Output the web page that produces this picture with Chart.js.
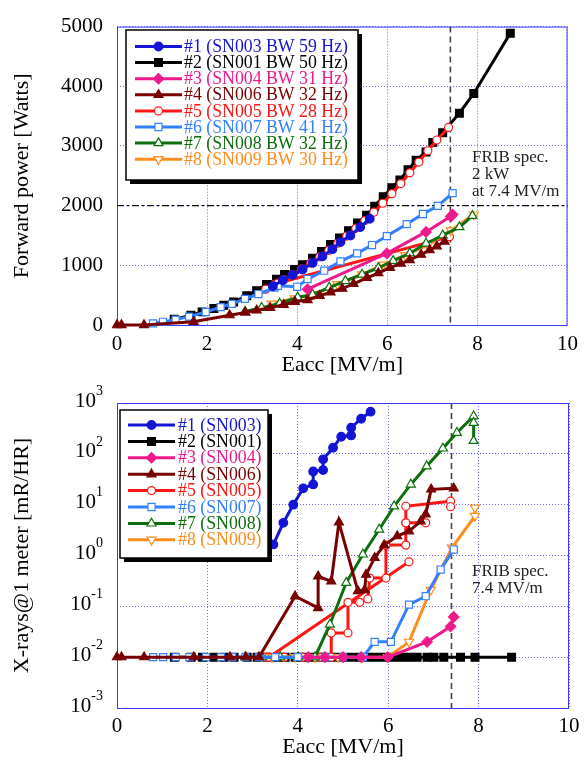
<!DOCTYPE html>
<html><head><meta charset="utf-8">
<script src="https://cdn.jsdelivr.net/npm/chart.js@4/dist/chart.umd.min.js"></script>
<style>
html,body{margin:0;padding:0;background:#fff;width:585px;height:763px;overflow:hidden}
#c1{position:absolute;left:0;top:0}
#c2{position:absolute;left:0;top:380px}
</style></head><body>
<canvas id="c1" width="585" height="380"></canvas>
<canvas id="c2" width="585" height="383"></canvas>
<script>
// ---------- DATA ----------
const xTicks = [0, 2, 4, 6, 8, 10];
const powerTicks = [0, 1000, 2000, 3000, 4000, 5000];
const xrayTickExps = [-3, -2, -1, 0, 1, 2, 3];

const topLabels = ['#1 (SN003 BW 59 Hz)', '#2 (SN001 BW 50 Hz)', '#3 (SN004 BW 31 Hz)', '#4 (SN006 BW 32 Hz)',
                   '#5 (SN005 BW 28 Hz)', '#6 (SN007 BW 41 Hz)', '#7 (SN008 BW 32 Hz)', '#8 (SN009 BW 30 Hz)'];
const bottomLabels = ['#1 (SN003)', '#2 (SN001)', '#3 (SN004)', '#4 (SN006)',
                      '#5 (SN005)', '#6 (SN007)', '#7 (SN008)', '#8 (SN009)'];

// Forward power [W] vs Eacc [MV/m]
const fwd1 = [[3.46,650],[3.68,750],[3.9,840],[4.12,930],[4.34,1040],[4.56,1150],[4.78,1270],[4.96,1390],[5.18,1500],[5.4,1640],[5.61,1780]];
const fwd2 = [[1.27,95],[1.64,165],[1.89,220],[2.15,275],[2.37,330],[2.59,385],[2.88,490],[3.1,575],[3.32,680],[3.54,765],[3.72,845],[3.94,930],[4.12,1010],[4.34,1120],[4.54,1230],[4.74,1350],[4.94,1460],[5.14,1580],[5.34,1710],[5.54,1840],[5.72,1990],[5.91,2150],[6.1,2300],[6.28,2430],[6.46,2600],[6.64,2760],[6.86,2900],[7.01,3060],[7.23,3220],[7.6,3550],[7.92,3880],[8.73,4890]];
const fwd3 = [[4.23,600],[5.99,1200],[6.86,1560],[7.41,1820],[7.45,1850]];
const fwd4 = [[0,0],[0.1,0],[0.6,0],[1.7,55],[2.5,165],[2.85,210],[3.1,246],[3.4,290],[3.7,340],[3.95,390],[4.23,420],[4.5,490],[4.74,550],[5.0,610],[5.25,690],[5.55,790],[5.8,870],[6.06,960],[6.3,1030],[6.5,1090],[6.75,1180],[6.94,1257],[7.1,1320],[7.27,1400]];
const fwd5 = [[3.3,600],[3.5,680],[3.7,760],[3.9,850],[4.1,940],[4.3,1040],[4.5,1140],[4.7,1250],[4.9,1370],[5.1,1490],[5.3,1620],[5.5,1750],[5.7,1890],[5.9,2040],[6.1,2200],[6.3,2370],[6.5,2550],[6.7,2730],[6.9,2920],[7.1,3100],[7.36,3310],[7.36,null],[3.57,700],[7.38,1480]];
const fwd6 = [[0.8,28],[1.02,54],[1.3,90],[1.6,140],[1.97,218],[2.3,300],[2.55,355],[2.84,437],[3.14,519],[3.5,628],[3.57,656],[4.0,640],[4.23,770],[4.6,910],[4.96,1066],[5.33,1200],[5.66,1340],[5.99,1490],[6.43,1690],[6.79,1860],[7.12,1995],[7.45,2210]];
const fwd7 = [[2.84,225],[3.21,290],[3.61,360],[4.01,464],[4.34,508],[4.71,628],[5.07,738],[5.44,847],[5.8,956],[6.13,1076],[6.5,1202],[6.86,1366],[7.23,1503],[7.6,1640],[7.89,1830]];
const fwd8 = [[3.43,355],[3.94,445],[4.38,519],[4.89,683],[5.44,847],[5.91,1011],[6.4,1170],[6.9,1339],[7.41,1585],[7.92,1850]];

// X-rays @ 1 m [mR/HR] vs Eacc [MV/m]
const xr1 = [[3.46,1.65],[3.68,4.4],[3.9,10],[4.12,21],[4.34,25],[4.34,45],[4.56,48],[4.56,78],[4.78,132],[4.96,217],[5.18,230],[5.18,327],[5.4,490],[5.61,675]];
const xr2 = [[1.27,0.01],[1.64,0.01],[1.89,0.01],[2.15,0.01],[2.37,0.01],[2.59,0.01],[2.88,0.01],[3.1,0.01],[3.32,0.01],[3.54,0.01],[3.72,0.01],[3.94,0.01],[4.12,0.01],[4.34,0.01],[4.54,0.01],[4.74,0.01],[4.94,0.01],[5.14,0.01],[5.34,0.01],[5.54,0.01],[5.72,0.01],[5.91,0.01],[6.1,0.01],[6.28,0.01],[6.46,0.01],[6.64,0.01],[6.86,0.01],[7.01,0.01],[7.23,0.01],[7.6,0.01],[7.92,0.01],[8.73,0.01]];
const xr3 = [[4.23,0.01],[4.6,0.01],[5.0,0.01],[5.4,0.01],[5.99,0.01],[6.86,0.02],[7.38,0.04],[7.45,0.062]];
const xr4 = [[0,0.01],[0.1,0.01],[0.6,0.01],[1.7,0.01],[2.5,0.01],[2.85,0.01],[3.14,0.01],[3.94,0.158],[4.45,0.093],[4.45,0.39],[4.74,0.31],[4.91,4.5],[5.33,0.2],[5.48,0.21],[5.51,0.42],[5.7,0.9],[5.91,1.6],[6.2,2.4],[6.46,3.0],[6.72,4.7],[6.83,6.5],[6.95,20],[7.45,21]];
const xr5 = [[3.3,0.01],[3.7,0.01],[4.1,0.01],[4.5,0.01],[4.74,0.01],[4.74,0.03],[5.11,0.03],[5.11,0.12],[5.37,0.12],[5.55,0.14],[5.59,0.36],[5.95,0.36],[5.95,1.6],[6.39,1.6],[6.39,4.4],[6.83,4.4],[6.39,4.4],[6.39,9.3],[7.38,11.7],[7.38,9.1],[7.38,null],[3.36,0.01],[6.46,0.75]];
const xr6 = [[0.8,0.01],[1.02,0.01],[1.3,0.01],[1.6,0.01],[1.97,0.01],[2.3,0.01],[2.55,0.01],[2.84,0.01],[3.14,0.01],[3.5,0.01],[4.0,0.01],[4.6,0.01],[5.0,0.01],[5.44,0.01],[5.7,0.02],[6.06,0.02],[6.46,0.108],[6.83,0.158],[7.16,0.53],[7.45,1.31]];
const xr7 = [[2.84,0.01],[3.21,0.01],[3.61,0.01],[4.01,0.01],[4.38,0.01],[4.71,0.044],[5.07,0.29],[5.44,1.05],[5.8,3.25],[6.13,9.3],[6.5,25],[6.85,57],[7.21,128],[7.52,260],[7.89,550],[7.89,410],[7.89,180]];
const xr8 = [[3.43,0.01],[3.94,0.01],[4.38,0.01],[4.89,0.01],[5.44,0.01],[5.99,0.01],[6.46,0.02],[6.94,0.21],[7.41,1.42],[7.92,6],[7.92,8.7]];

const specEacc = 7.4;
const specPower = 2000;

// ---------- STYLE ----------
const FONT = '"Liberation Serif", "Times New Roman", serif';
const GRID = '#6a6aff';
const FRAME = '#3a3aff';
const STYLE = [
  {color:'#1414d6', ps:'circle',   r:4.3, fill:'#1414d6', rot:0,   order:0},
  {color:'#000000', ps:'rect',     r:5.5, fill:'#000000', rot:0,   order:3},
  {color:'#ee1a8c', ps:'rectRot',  r:5.2, fill:'#ee1a8c', rot:0,   order:1},
  {color:'#780000', ps:'triangle', r:5.2, fill:'#780000', rot:0,   order:1},
  {color:'#ff1414', ps:'circle',   r:4.0, fill:'#ffffff', rot:0,   order:2},
  {color:'#3380ff', ps:'rect',     r:5.0, fill:'#ffffff', rot:0,   order:1},
  {color:'#0d6e0d', ps:'triangle', r:5.2, fill:'#ffffff', rot:0,   order:1},
  {color:'#ff8c1e', ps:'triangle', r:5.2, fill:'#ffffff', rot:180, order:1},
];

function makeDatasets(seriesList, labels) {
  return seriesList.map((pts, i) => {
    const s = STYLE[i];
    return {
      label: labels[i],
      data: pts.map(p => ({x: p[0], y: p[1]})),
      borderColor: s.color, backgroundColor: s.fill, borderWidth: 3,
      pointStyle: s.ps, pointRadius: s.r, pointRotation: s.rot,
      pointBorderColor: s.color, pointBackgroundColor: s.fill, pointBorderWidth: 1.2,
      tension: 0, spanGaps: false, order: s.order, clip: false
    };
  });
}

function drawMarker(ctx, ds, x, y) {
  ctx.fillStyle = ds.pointBackgroundColor;
  ctx.strokeStyle = ds.pointBorderColor;
  ctx.lineWidth = ds.pointBorderWidth;
  Chart.helpers.drawPoint(ctx, {pointStyle: ds.pointStyle, rotation: ds.pointRotation, radius: ds.pointRadius, borderWidth: ds.pointBorderWidth}, x, y);
}

function legendPlugin(box) {
  return {
    id: 'boxLegend',
    afterDatasetsDraw(chart) {
      const ctx = chart.ctx;
      ctx.save();
      ctx.fillStyle = '#000';
      ctx.fillRect(box.x + 4, box.y + 4, box.w, box.h);
      ctx.fillStyle = '#fff';
      ctx.fillRect(box.x, box.y, box.w, box.h);
      ctx.strokeStyle = '#000'; ctx.lineWidth = 1.5;
      ctx.strokeRect(box.x, box.y, box.w, box.h);
      chart.data.datasets.forEach((ds, i) => {
        const y = box.row0 + i * box.rowH;
        ctx.strokeStyle = ds.borderColor; ctx.lineWidth = 3; ctx.setLineDash([]);
        ctx.beginPath(); ctx.moveTo(box.l1, y); ctx.lineTo(box.l2, y); ctx.stroke();
        drawMarker(ctx, ds, (box.l1 + box.l2) / 2, y);
        ctx.fillStyle = ds.borderColor;
        ctx.font = box.font + 'px ' + FONT;
        ctx.textAlign = 'left'; ctx.textBaseline = 'middle';
        ctx.fillText(ds.label, box.tx, y + 1);
      });
      ctx.restore();
    }
  };
}

const framePlugin = {
  id: 'frame',
  beforeDatasetsDraw(chart) {
    const {ctx, chartArea: a} = chart;
    ctx.save();
    ctx.strokeStyle = FRAME; ctx.lineWidth = 1;
    ctx.strokeRect(a.left + 0.5, a.top + 0.5, a.right - a.left - 1, a.bottom - a.top);
    ctx.restore();
  }
};

function specPlugin(opts) {
  return {
    id: 'spec',
    beforeDatasetsDraw(chart) {
      const {ctx, chartArea: a, scales} = chart;
      ctx.save();
      const px = scales.x.getPixelForValue(specEacc);
      ctx.strokeStyle = '#444'; ctx.lineWidth = 1.6; ctx.setLineDash([6, 4]);
      ctx.beginPath(); ctx.moveTo(px, a.top); ctx.lineTo(px, a.bottom); ctx.stroke();
      if (opts.hValue !== undefined) {
        const py = scales.y.getPixelForValue(opts.hValue);
        ctx.strokeStyle = '#000'; ctx.lineWidth = 1.2; ctx.setLineDash([7, 3, 2, 3]);
        ctx.beginPath(); ctx.moveTo(a.left, py); ctx.lineTo(a.right, py); ctx.stroke();
      }
      ctx.restore();
    },
    afterDatasetsDraw(chart) {
      const ctx = chart.ctx;
      ctx.save();
      ctx.fillStyle = '#222';
      ctx.font = '17px ' + FONT;
      ctx.textAlign = 'left'; ctx.textBaseline = 'middle';
      opts.text.forEach((t, i) => ctx.fillText(t, opts.tx, opts.ty + i * 17));
      ctx.restore();
    }
  };
}

const logTickPlugin = {
  id: 'logTicks',
  afterDraw(chart) {
    const {ctx, scales} = chart;
    ctx.save();
    ctx.fillStyle = '#000';
    ctx.textAlign = 'left'; ctx.textBaseline = 'middle';
    xrayTickExps.forEach(e => {
      const py = scales.y.getPixelForValue(Math.pow(10, e));
      const sup = String(e);
      ctx.font = '14px ' + FONT;
      const ws = ctx.measureText(sup).width;
      ctx.font = '21px ' + FONT;
      const wb = ctx.measureText('10').width;
      const x0 = 103 - ws - wb;
      ctx.fillText('10', x0, py - 2);
      ctx.font = '14px ' + FONT;
      ctx.fillText(sup, x0 + wb, py - 12);
    });
    ctx.restore();
  }
};

function xScale(tickPad, titlePadBottom, h) {
  return {
    type: 'linear', min: xTicks[0], max: xTicks[xTicks.length - 1],
    afterBuildTicks(s) { s.ticks = xTicks.map(v => ({value: v})); },
    ticks: {font: {family: FONT, size: 21}, color: '#000', padding: tickPad, maxRotation: 0, autoSkip: false,
            callback: v => String(v)},
    grid: {color: GRID, lineWidth: 1, drawTicks: false},
    border: {display: false, dash: [1, 2]},
    title: {display: true, text: 'Eacc [MV/m]', color: '#000', font: {family: FONT, size: 22}, padding: {top: 0, bottom: titlePadBottom}},
    afterFit(s) { s.height = h; }
  };
}

// ---------- TOP CHART ----------
new Chart(document.getElementById('c1'), {
  type: 'line',
  data: {datasets: makeDatasets([fwd1, fwd2, fwd3, fwd4, fwd5, fwd6, fwd7, fwd8], topLabels)},
  options: {
    responsive: false, animation: false, devicePixelRatio: 1,
    layout: {padding: {left: 0, right: 12, top: 20, bottom: 0}},
    plugins: {legend: {display: false}, tooltip: {enabled: false}},
    scales: {
      x: xScale(7, 2, 55),
      y: {
        type: 'linear', min: powerTicks[0], max: powerTicks[powerTicks.length - 1],
        afterBuildTicks(s) { s.ticks = powerTicks.map(v => ({value: v})); },
        ticks: {font: {family: FONT, size: 21}, color: '#000', padding: 14, callback: v => String(v)},
        grid: {color: GRID, lineWidth: 1, drawTicks: false},
        border: {display: false, dash: [1, 2]},
        title: {display: true, text: 'Forward power [Watts]', color: '#000', font: {family: FONT, size: 22}, padding: {top: 9, bottom: 0}},
        afterFit(s) { s.width = 117; }
      }
    }
  },
  plugins: [framePlugin,
            specPlugin({hValue: specPower, tx: 472, ty: 158, text: ['FRIB spec.', '2 kW', 'at 7.4 MV/m']}),
            legendPlugin({x: 126, y: 30, w: 232, h: 150, row0: 46.5, rowH: 16.1, l1: 135, l2: 182, tx: 184, font: 17.8})]
});

// ---------- BOTTOM CHART ----------
new Chart(document.getElementById('c2'), {
  type: 'line',
  data: {datasets: makeDatasets([xr1, xr2, xr3, xr4, xr5, xr6, xr7, xr8], bottomLabels)},
  options: {
    responsive: false, animation: false, devicePixelRatio: 1,
    layout: {padding: {left: 0, right: 12, top: 23, bottom: 0}},
    plugins: {legend: {display: false}, tooltip: {enabled: false}},
    scales: {
      x: xScale(5.5, 3, 55),
      y: {
        type: 'logarithmic', min: Math.pow(10, xrayTickExps[0]), max: Math.pow(10, xrayTickExps[xrayTickExps.length - 1]),
        afterBuildTicks(s) { s.ticks = xrayTickExps.map(e => ({value: Math.pow(10, e)})); },
        ticks: {callback: () => '', padding: 14},
        grid: {color: GRID, lineWidth: 1, drawTicks: false},
        border: {display: false, dash: [1, 2]},
        title: {display: true, text: 'X-rays@1 meter [mR/HR]', color: '#000', font: {family: FONT, size: 22}, padding: {top: 9, bottom: 0}},
        afterFit(s) { s.width = 117; }
      }
    }
  },
  plugins: [framePlugin, logTickPlugin,
            specPlugin({tx: 472, ty: 192, text: ['FRIB spec.', '7.4 MV/m']}),
            legendPlugin({x: 120, y: 30, w: 148, h: 148, row0: 45, rowH: 16.4, l1: 128, l2: 175, tx: 178, font: 17.8})]
});
</script></body></html>
